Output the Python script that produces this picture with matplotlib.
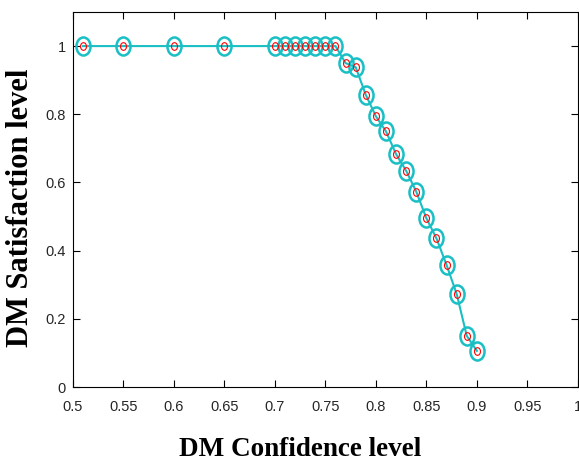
import matplotlib
matplotlib.use('Agg')
import matplotlib.pyplot as plt
from matplotlib.path import Path
from matplotlib.transforms import Affine2D

# DM confidence level vs satisfaction level
confidence = [0.51, 0.55, 0.60, 0.65, 0.70, 0.71, 0.72, 0.73, 0.74, 0.75, 0.76,
              0.77, 0.78, 0.79, 0.80, 0.81, 0.82, 0.83, 0.84, 0.85, 0.86, 0.87,
              0.88, 0.89, 0.90]
satisfaction = [1, 1, 1, 1, 1, 1, 1, 1, 1, 1, 1,
                0.950, 0.938, 0.857, 0.794, 0.750, 0.683, 0.634, 0.573, 0.495,
                0.436, 0.358, 0.273, 0.150, 0.106]

x_ticks = [0.5, 0.55, 0.6, 0.65, 0.7, 0.75, 0.8, 0.85, 0.9, 0.95, 1]
x_ticklabels = ['0.5', '0.55', '0.6', '0.65', '0.7', '0.75', '0.8', '0.85', '0.9', '0.95', '1']
y_ticks = [0, 0.2, 0.4, 0.6, 0.8, 1]
y_ticklabels = ['0', '0.2', '0.4', '0.6', '0.8', '1']

cyan = '#19BFC4'

# slightly tall ellipse for the markers
ellipse = Path.unit_circle().transformed(Affine2D().scale(0.78, 1.0))

fig = plt.figure(figsize=(5.79, 4.61), dpi=100)
ax = fig.add_axes([0.126, 0.1605, 0.872, 0.8135])

ax.plot(confidence, satisfaction, color=cyan, linewidth=1.5, marker=ellipse,
        markersize=13, markerfacecolor='none', markeredgecolor=cyan,
        markeredgewidth=1.8)
ax.plot(confidence, satisfaction, linestyle='none', marker=ellipse, markersize=5.5,
        markerfacecolor='none', markeredgecolor='red', markeredgewidth=0.8)

ax.set_xlim(0.5, 1)
ax.set_ylim(0, 1.1)
ax.set_xticks(x_ticks)
ax.set_xticklabels(x_ticklabels)
ax.set_yticks(y_ticks)
ax.set_yticklabels(y_ticklabels)

for lab in ax.get_xticklabels() + ax.get_yticklabels():
    lab.set_fontfamily('Liberation Sans')
    lab.set_fontsize(10.5)
    lab.set_color('#262626')

ax.tick_params(direction='in', top=True, right=True, length=5, width=0.8)
ax.tick_params(axis='x', pad=9)
ax.tick_params(axis='y', pad=5)
for sp in ax.spines.values():
    sp.set_linewidth(0.8)

fig.text(300 / 579, 1 - 456 / 461, 'DM Confidence level', family='Liberation Serif',
         weight='bold', fontsize=19.5, ha='center', va='baseline')
fig.text(21 / 579, 1 - 208 / 461, 'DM Satisfaction level', family='Liberation Serif',
         weight='bold', fontsize=22, ha='center', va='center', rotation=90)

fig.savefig('out.png', dpi=100)
